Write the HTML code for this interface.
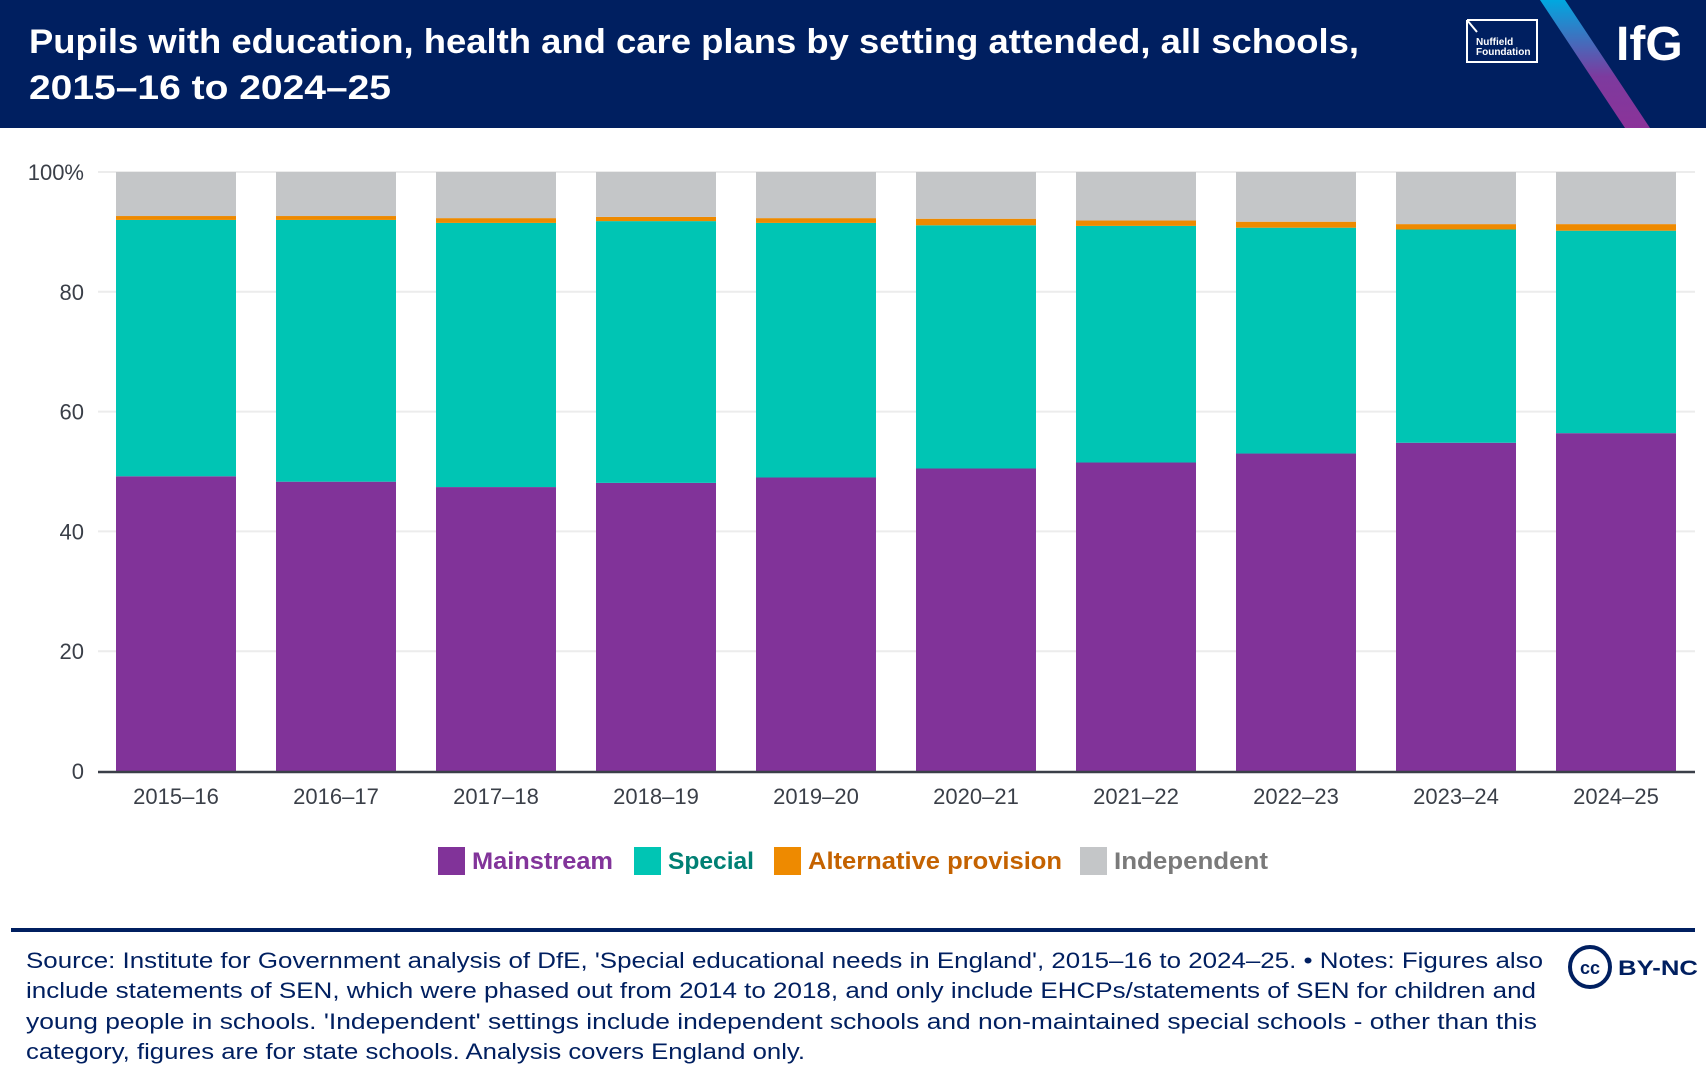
<!DOCTYPE html>
<html><head><meta charset="utf-8"><style>
body{margin:0;background:#fff}
svg{display:block;font-family:"Liberation Sans",sans-serif}
</style></head><body>
<svg id="c" width="1706" height="1082" viewBox="0 0 1706 1082">
<defs><linearGradient id="g" x1="0" y1="0" x2="0" y2="1"><stop offset="0" stop-color="#00a8e0"/><stop offset="0.6" stop-color="#7d3a9e"/><stop offset="1" stop-color="#8b3399"/></linearGradient></defs>
<rect x="0" y="0" width="1706" height="128" fill="#001f60"/>
<polygon points="1540,0 1565,0 1650,128 1625,128" fill="url(#g)"/>
<g fill="#fff" font-weight="bold" font-size="34">
<text x="29" y="53" textLength="1330" lengthAdjust="spacingAndGlyphs">Pupils with education, health and care plans by setting attended, all schools,</text>
<text x="29" y="99" textLength="362" lengthAdjust="spacingAndGlyphs">2015–16 to 2024–25</text>
</g>
<g>
<path d="M1467,20 L1537,20 L1537,62 L1467,62 L1467,20 M1467,20 L1477,32" fill="none" stroke="#fff" stroke-width="2"/>
<text x="1476" y="45" fill="#fff" font-size="10" font-weight="bold">Nuffield</text>
<text x="1476" y="55" fill="#fff" font-size="10" font-weight="bold">Foundation</text>
</g>
<text x="1616" y="60" fill="#fff" font-size="48" font-weight="bold">IfG</text>
<g id="grid"></g><g id="bars"></g><g id="axes"></g>
<g id="legend"></g>
<rect x="11" y="928" width="1684" height="4" fill="#001f60"/>
<g fill="#001f60" font-size="22">
<text x="26" y="968" textLength="1517" lengthAdjust="spacingAndGlyphs">Source: Institute for Government analysis of DfE, 'Special educational needs in England', 2015–16 to 2024–25. • Notes: Figures also</text>
<text x="26" y="998" textLength="1510" lengthAdjust="spacingAndGlyphs">include statements of SEN, which were phased out from 2014 to 2018, and only include EHCPs/statements of SEN for children and</text>
<text x="26" y="1029" textLength="1511" lengthAdjust="spacingAndGlyphs">young people in schools. 'Independent' settings include independent schools and non-maintained special schools - other than this</text>
<text x="26" y="1059" textLength="779" lengthAdjust="spacingAndGlyphs">category, figures are for state schools. Analysis covers England only.</text>
</g>
<g>
<circle cx="1590" cy="967" r="20" fill="none" stroke="#001f60" stroke-width="4"/>
<text x="1590" y="974" text-anchor="middle" font-size="18" font-weight="bold" fill="#001f60">cc</text>
<text x="1618" y="975" font-size="21" font-weight="bold" fill="#001f60" textLength="80" lengthAdjust="spacingAndGlyphs">BY-NC</text>
</g>
</svg>
<script>
const categories=["2015–16","2016–17","2017–18","2018–19","2019–20","2020–21","2021–22","2022–23","2023–24","2024–25"];
const mainstream=[49.2,48.3,47.4,48.1,49.0,50.5,51.5,53.0,54.8,56.4];
const special=[42.8,43.7,44.1,43.7,42.5,40.6,39.5,37.7,35.6,33.8];
const altProvision=[0.65,0.65,0.8,0.7,0.8,1.1,0.9,1.0,0.9,1.1];
const independent=mainstream.map((m,i)=>100-m-special[i]-altProvision[i]);
const yTicks=[0,20,40,60,80,100];
const seriesNames=["Mainstream","Special","Alternative provision","Independent"];

const NS="http://www.w3.org/2000/svg";
const colors=["#813399","#00c5b4","#ee8a00","#c4c6c8"];
const textColors=["#82349a","#008074","#c46200","#7a7a7a"];
const y0=771,y100=172,xL=98,xR=1695,x0=116,step=160,bw=120;
const Y=v=>y0-(y0-y100)*v/100;
const X=i=>x0+i*step;
function el(tag,attrs,parent,txt){const e=document.createElementNS(NS,tag);for(const k in attrs)e.setAttribute(k,attrs[k]);if(txt!=null)e.textContent=txt;parent.appendChild(e);return e;}
const grid=document.getElementById('grid'),bars=document.getElementById('bars'),axes=document.getElementById('axes'),legend=document.getElementById('legend');
yTicks.forEach(t=>{
  if(t>0){const l=el('line',{x1:xL,x2:xR,y1:Y(t),y2:Y(t),stroke:'#ececec','stroke-width':2},grid);
  
  }
  const tx=el('text',{x:84,y:Y(t)+8,'text-anchor':'end','font-size':22,fill:'#3a3f48'},axes,t===100?'100%':String(t));
  
  
});
const series=[mainstream,special,altProvision,independent];
categories.forEach((c,i)=>{
  let cum=0;
  series.forEach((s,k)=>{
    const v=s[i];
    const r=el('rect',{x:X(i),width:bw,y:Y(cum+v),height:Y(cum)-Y(cum+v),fill:colors[k]},bars);
    
    
    cum+=v;
  });
  const tx=el('text',{x:X(i)+bw/2,y:804,'text-anchor':'middle','font-size':22,fill:'#3a3f48'},axes,c);
  
  
});
const ax=el('line',{x1:xL,x2:xR,y1:y0+1,y2:y0+1,stroke:'#3a3f48','stroke-width':2.5},axes);


const legX=[438,634,774,1080],legW=[141,86,254,154];
seriesNames.forEach((n,k)=>{
  const g=el('g',{},legend);
  
  
  el('rect',{x:legX[k],y:847,width:27,height:28,fill:colors[k]},g);
  el('text',{x:legX[k]+34,y:869,'font-size':24,'font-weight':'bold',fill:textColors[k],textLength:legW[k],lengthAdjust:'spacingAndGlyphs'},g,n);
});
</script>
</body></html>
